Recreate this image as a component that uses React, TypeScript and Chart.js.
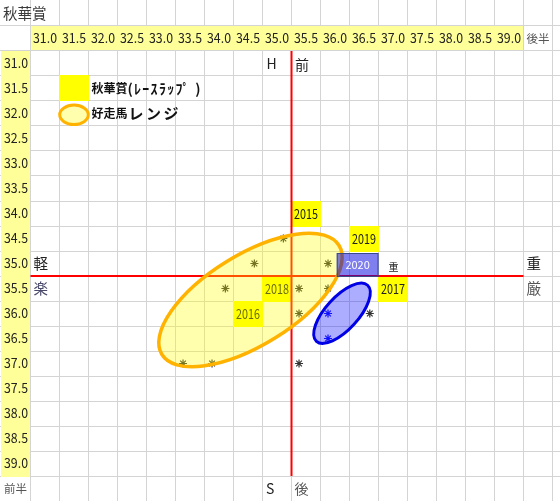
import React, { useEffect, useRef } from 'react';
import { Chart, registerables } from 'chart.js';

Chart.register(...registerables);

const FONT = '"Noto Sans CJK JP", "Noto Sans", sans-serif';

// sheet axes: 後半 across the top, 前半 down the side (seconds)
const TICKS = [31.0, 31.5, 32.0, 32.5, 33.0, 33.5, 34.0, 34.5, 35.0, 35.5, 36.0, 36.5, 37.0, 37.5, 38.0, 38.5, 39.0];
const TICK_LABELS = ['31.0', '31.5', '32.0', '32.5', '33.0', '33.5', '34.0', '34.5', '35.0', '35.5', '36.0', '36.5', '37.0', '37.5', '38.0', '38.5', '39.0'];

// 秋華賞 race laps of past years (後半, 前半)
const YEARS = ['2015', '2016', '2017', '2018', '2019'];
const YEAR_LATE = [35.5, 34.5, 37.0, 35.0, 36.5];
const YEAR_EARLY = [34.0, 36.0, 35.5, 35.5, 34.5];
// 2020 box: late from/to, early from/to
const LAP_2020 = [36.03, 36.75, 34.79, 35.27];

// good runners
const RUN_LATE = [35.11, 34.61, 35.88, 34.11, 35.38, 35.88, 35.38, 36.6, 33.38, 33.88, 35.38];
const RUN_EARLY = [34.5, 35.0, 35.0, 35.5, 35.5, 35.5, 36.0, 36.0, 37.0, 37.0, 37.0];
const RUN_2020_LATE = [35.88, 35.88];
const RUN_2020_EARLY = [36.0, 36.5];

// ranges: centre, major-axis tip, minor-axis tip (late, early pairs)
const RANGE_PAST = [34.543, 35.73, 36.07, 34.64, 34.952, 36.502];
const RANGE_2020 = [36.121, 35.996, 36.562, 35.435, 36.329, 36.216];

// the pace cross
const CROSS_H_LATE = [30.75, 39.25];
const CROSS_H_EARLY = [35.25, 35.25];
const CROSS_V_LATE = [35.25, 35.25];
const CROSS_V_EARLY = [30.75, 39.25];

const X_MIN = 31 - 45 / 58;
const X_MAX = 31 + 515 / 58;
const Y_MIN = 31 - 63.5 / 50;
const Y_MAX = 31 + 437.5 / 50;

const pts = (xs: number[], ys: number[]) => xs.map((v, i) => ({ x: v, y: ys[i] }));

const text = (ctx: CanvasRenderingContext2D, s: string, x: number, y: number, font: string, color: string, align: CanvasTextAlign = 'left', maxW?: number) => {
  ctx.font = font;
  ctx.fillStyle = color;
  ctx.textAlign = align;
  ctx.textBaseline = 'middle';
  if (maxW) ctx.fillText(s, x, y, maxW);
  else ctx.fillText(s, x, y);
};

const drawRange = (chart: any, r: number[], fill: string, stroke: string, lw: number) => {
  const { ctx } = chart;
  const { x, y } = chart.scales;
  const cx = x.getPixelForValue(r[0]), cy = y.getPixelForValue(r[1]);
  const ax = x.getPixelForValue(r[2]) - cx, ay = y.getPixelForValue(r[3]) - cy;
  const bx = x.getPixelForValue(r[4]) - cx, by = y.getPixelForValue(r[5]) - cy;
  ctx.save();
  ctx.beginPath();
  ctx.save();
  ctx.transform(ax, ay, bx, by, cx, cy);
  ctx.arc(0, 0, 1, 0, Math.PI * 2);
  ctx.restore();
  ctx.fillStyle = fill;
  ctx.fill();
  ctx.lineWidth = lw;
  ctx.strokeStyle = stroke;
  ctx.stroke();
  ctx.restore();
};

const sheetPlugin = {
  id: 'sheet',
  beforeDatasetsDraw(chart: any) {
    const { ctx } = chart;
    const { x, y } = chart.scales;
    const px = (v: number) => x.getPixelForValue(v);
    const py = (v: number) => y.getPixelForValue(v);
    const edge = (p: number) => Math.round(p - 0.5);
    ctx.save();

    // yellow header cells
    ctx.fillStyle = '#FFFF99';
    ctx.fillRect(edge(px(30.75)) + 1, edge(py(30.25)) + 1, edge(px(39.25)) - edge(px(30.75)) - 1, edge(py(30.75)) - edge(py(30.25)) - 1);
    ctx.fillRect(1, edge(py(30.75)) + 1, edge(px(30.75)) - 1, edge(py(39.25)) - edge(py(30.75)));

    TICKS.forEach((v, i) => {
      text(ctx, TICK_LABELS[i], px(v), py(30.5), `13px ${FONT}`, '#222', 'center', 24);
      text(ctx, TICK_LABELS[i], px(30.5), py(v), `13px ${FONT}`, '#222', 'center', 24);
    });

    // year cells
    YEARS.forEach((s, i) => {
      const l = edge(px(YEAR_LATE[i] - 0.25)), r = edge(px(YEAR_LATE[i] + 0.25));
      const t = edge(py(YEAR_EARLY[i] - 0.25)), b = edge(py(YEAR_EARLY[i] + 0.25));
      ctx.fillStyle = '#FFFF00';
      ctx.fillRect(l, t, r - l + 1, b - t + 1);
      text(ctx, s, px(YEAR_LATE[i]), py(YEAR_EARLY[i]) + 0.5, `13px ${FONT}`, '#222', 'center', 24);
    });

    // sheet notes
    text(ctx, '秋華賞', 3, py(30.0), `14.5px ${FONT}`, '#3a3a3a');
    text(ctx, '後半', px(39.25) + 3, py(30.5), `11.5px ${FONT}`, '#555');
    text(ctx, '前半', 4, py(39.5), `11.5px ${FONT}`, '#555');
    text(ctx, 'H', px(34.75) + 4, py(31.0), `14px ${FONT}`, '#222');
    text(ctx, '前', px(35.25) + 3.5, py(31.0) + 1, `14px ${FONT}`, '#222');
    text(ctx, 'S', px(34.75) + 3.5, py(39.5), `14px ${FONT}`, '#222');
    text(ctx, '後', px(35.25) + 3, py(39.5), `14px ${FONT}`, '#555');
    text(ctx, '軽', px(30.75) + 3, py(35.0), `14.5px ${FONT}`, '#222');
    text(ctx, '楽', px(30.75) + 3, py(35.5), `14.5px ${FONT}`, '#4a4a6a');
    text(ctx, '重', px(39.25) + 3, py(35.0), `14.5px ${FONT}`, '#222');
    text(ctx, '厳', px(39.25) + 3, py(35.5), `14.5px ${FONT}`, '#555');
    text(ctx, '重', px(36.75) + 10, py(35.0) + 4, `10px ${FONT}`, '#222');
    ctx.restore();
  },
  afterDatasetsDraw(chart: any) {
    const { ctx } = chart;
    const { x, y } = chart.scales;
    const px = (v: number) => x.getPixelForValue(v);
    const py = (v: number) => y.getPixelForValue(v);

    drawRange(chart, RANGE_PAST, 'rgba(255,255,0,0.32)', '#FFB300', 3.5);
    drawRange(chart, RANGE_2020, 'rgba(0,0,255,0.32)', '#0000E6', 3);

    // 2020 lap box
    ctx.save();
    const l = px(LAP_2020[0]), r = px(LAP_2020[1]);
    const t = py(LAP_2020[2]), b = py(LAP_2020[3]);
    ctx.fillStyle = 'rgba(0,0,225,0.5)';
    ctx.fillRect(l, t, r - l, b - t);
    ctx.strokeStyle = '#3a4a86';
    ctx.lineWidth = 1;
    ctx.strokeRect(l + 0.5, t + 0.5, r - l - 1, b - t - 1);
    text(ctx, '2020', (l + r) / 2, (t + b) / 2, `11px ${FONT}`, '#FFFFFF', 'center');

    // legend
    const ll = Math.round(px(31.25) - 0.5), lr = Math.round(px(31.75) - 0.5);
    const lt = Math.round(py(31.25) - 0.5), lb = Math.round(py(31.75) - 0.5);
    ctx.fillStyle = '#FFFF00';
    ctx.fillRect(ll, lt, lr - ll + 1, lb - lt + 1);
    ctx.beginPath();
    ctx.ellipse(px(31.5), py(32.0) + 1.3, 14.3, 9.7, 0, 0, Math.PI * 2);
    ctx.fillStyle = 'rgba(255,255,0,0.32)';
    ctx.fill();
    ctx.lineWidth = 3;
    ctx.strokeStyle = '#FFB300';
    ctx.stroke();

    const tx = px(31.75) + 3;
    text(ctx, '秋華賞', tx, py(31.5), `bold 12px ${FONT}`, '#111');
    const w1 = ctx.measureText('秋華賞').width;
    ctx.font = `bold 14px ${FONT}`;
    const kana1 = '(ﾚｰｽﾗｯﾌﾟ )';
    const k1w = ctx.measureText(kana1).width;
    ctx.letterSpacing = `${Math.max(0, (203 - tx - w1 - k1w) / kana1.length)}px`;
    text(ctx, kana1, tx + w1, py(31.5), `bold 14px ${FONT}`, '#111');
    ctx.letterSpacing = '0px';

    text(ctx, '好走馬', tx, py(32.0), `bold 12px ${FONT}`, '#111');
    const w2 = ctx.measureText('好走馬').width;
    ctx.font = `bold 15px ${FONT}`;
    const kana2 = 'レンジ';
    const k2w = ctx.measureText(kana2).width;
    ctx.letterSpacing = `${Math.max(0, (180 - tx - w2 - k2w) / kana2.length)}px`;
    text(ctx, kana2, tx + w2 + 1, py(32.0), `bold 15px ${FONT}`, '#111');
    ctx.letterSpacing = '0px';
    ctx.restore();
  },
};

const LapChart: React.FC = () => {
  const canvasRef = useRef<HTMLCanvasElement>(null);
  const chartRef = useRef<Chart | null>(null);

  useEffect(() => {
    if (!canvasRef.current) return;
    const gridX = TICKS.map((v) => v - 0.25).concat([39.25, 39.75]);
    const gridY = [30.25].concat(TICKS.map((v) => v - 0.25), [39.25]);
    chartRef.current = new Chart(canvasRef.current, {
      type: 'scatter',
      data: {
        datasets: [
          { data: pts(CROSS_H_LATE, CROSS_H_EARLY), showLine: true, borderColor: '#FF0000', borderWidth: 2, pointRadius: 0 },
          { data: pts(CROSS_V_LATE, CROSS_V_EARLY), showLine: true, borderColor: '#FF0000', borderWidth: 2, pointRadius: 0 },
          { data: pts(RUN_LATE, RUN_EARLY), pointStyle: 'star', pointRadius: 4, borderColor: '#333', backgroundColor: '#333', borderWidth: 1.2 },
          { data: pts(RUN_2020_LATE, RUN_2020_EARLY), pointStyle: 'star', pointRadius: 4, borderColor: '#1a1aff', backgroundColor: '#1a1aff', borderWidth: 1.2 },
        ],
      },
      options: {
        animation: false,
        responsive: false,
        layout: { padding: 0, autoPadding: false },
        plugins: { legend: { display: false }, tooltip: { enabled: false } },
        scales: {
          x: {
            type: 'linear', min: X_MIN, max: X_MAX,
            afterBuildTicks: (s: any) => { s.ticks = gridX.map((v) => ({ value: v })); },
            afterFit: (s: any) => { s.height = 0; },
            ticks: { display: false },
            grid: { color: '#D4D4D4', lineWidth: 1, drawTicks: false },
            border: { display: false },
          },
          y: {
            type: 'linear', min: Y_MIN, max: Y_MAX, reverse: true,
            afterBuildTicks: (s: any) => { s.ticks = gridY.map((v) => ({ value: v })); },
            afterFit: (s: any) => { s.width = 0; },
            ticks: { display: false },
            grid: { color: '#D4D4D4', lineWidth: 1, drawTicks: false },
            border: { display: false },
          },
        },
      } as any,
      plugins: [sheetPlugin],
    });
    return () => chartRef.current?.destroy();
  }, []);

  return (
    <div style={{ position: 'fixed', left: 0, top: 0, width: 560, height: 501, background: '#fff' }}>
      <canvas ref={canvasRef} width={560} height={501} style={{ display: 'block' }} aria-label="秋華賞 lap chart" role="img" />
    </div>
  );
};

export default function App() {
  return <LapChart />;
}
